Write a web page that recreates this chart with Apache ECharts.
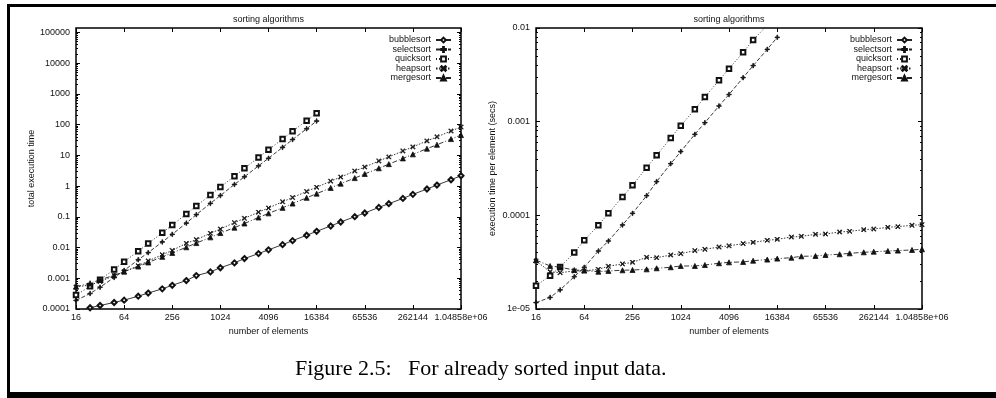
<!DOCTYPE html>
<html><head><meta charset="utf-8">
<script src="https://cdn.jsdelivr.net/npm/echarts@6/dist/echarts.min.js"></script>
<style>html,body{margin:0;padding:0;background:#fff}#c{width:996px;height:398px}</style>
</head><body><div id="c"></div>
<script>
// ---------- data ----------
const nValues = [16,24,32,48,64,96,128,192,256,384,512,768,1024,1536,2048,3072,4096,6144,8192,12288,16384,24576,32768,49152,65536,98304,131072,196608,262144,393216,524288,786432,1048576];
const seriesNames = ['bubblesort','selectsort','quicksort','heapsort','mergesort'];

// total execution time (left chart)
const bubbleTotal = [8.0e-5,1.1e-4,1.3e-4,1.63e-4,1.94e-4,2.61e-4,3.3e-4,4.52e-4,5.9e-4,8.42e-4,1.22e-3,1.61e-3,2.2e-3,3.16e-3,4.37e-3,6.34e-3,8.4e-3,0.0124,0.0167,0.025,0.0336,0.0502,0.0677,0.1007,0.1325,0.202,0.266,0.396,0.535,0.798,1.075,1.60,2.16];
const selectTotal = [1.9e-4,3.19e-4,5.12e-4,1.06e-3,1.79e-3,3.99e-3,6.81e-3,0.01515,0.0269,0.0622,0.117,0.273,0.490,1.126,2.0,4.52,8.0,18.1,32.4,72.7,130];
const quickTotal  = [2.83e-4,5.45e-4,9.0e-4,1.92e-3,3.46e-3,7.5e-3,0.01344,0.0301,0.0535,0.124,0.224,0.514,0.928,2.08,3.75,8.48,15.1,33.8,61,132,234];
const heapTotal   = [5.2e-4,6.0e-4,7.8e-4,1.22e-3,1.63e-3,2.54e-3,3.66e-3,5.82e-3,8.06e-3,0.01367,0.0181,0.0290,0.0399,0.0645,0.0889,0.141,0.193,0.307,0.422,0.665,0.908,1.443,1.956,3.08,4.14,6.53,8.85,13.8,18.7,29.3,39.7,61.6,83.3];
const mergeTotal  = [5.33e-4,6.91e-4,8.93e-4,1.25e-3,1.64e-3,2.40e-3,3.26e-3,4.97e-3,6.68e-3,0.01018,0.01393,0.0214,0.0295,0.0442,0.0604,0.0946,0.129,0.195,0.269,0.414,0.565,0.868,1.196,1.81,2.47,3.77,5.15,7.92,10.7,16.4,22.0,33.6,45.5];

// execution time per element (right chart)
const bubblePer = [5.0e-6,4.58e-6,4.06e-6,3.40e-6,3.03e-6,2.72e-6,2.58e-6,2.35e-6,2.30e-6,2.19e-6,2.38e-6,2.10e-6,2.15e-6,2.06e-6,2.13e-6,2.06e-6,2.05e-6,2.02e-6,2.04e-6,2.03e-6,2.05e-6,2.04e-6,2.07e-6,2.05e-6,2.02e-6,2.05e-6,2.03e-6,2.01e-6,2.04e-6,2.03e-6,2.05e-6,2.03e-6,2.06e-6];
const selectPer = [1.17e-5,1.33e-5,1.60e-5,2.21e-5,2.79e-5,4.16e-5,5.32e-5,7.89e-5,1.05e-4,1.62e-4,2.29e-4,3.56e-4,4.79e-4,7.33e-4,9.75e-4,1.47e-3,1.95e-3,2.95e-3,3.96e-3,5.92e-3,7.95e-3];
const quickPer  = [1.77e-5,2.27e-5,2.81e-5,4.0e-5,5.41e-5,7.82e-5,1.05e-4,1.57e-4,2.09e-4,3.23e-4,4.37e-4,6.69e-4,9.06e-4,1.355e-3,1.83e-3,2.76e-3,3.68e-3,5.5e-3,7.44e-3,1.07e-2,1.43e-2];
const heapPer   = [3.26e-5,2.50e-5,2.44e-5,2.55e-5,2.55e-5,2.65e-5,2.86e-5,3.03e-5,3.15e-5,3.56e-5,3.53e-5,3.77e-5,3.90e-5,4.20e-5,4.34e-5,4.59e-5,4.72e-5,4.99e-5,5.15e-5,5.41e-5,5.54e-5,5.87e-5,5.97e-5,6.27e-5,6.32e-5,6.64e-5,6.75e-5,7.03e-5,7.14e-5,7.45e-5,7.57e-5,7.83e-5,7.94e-5];
const mergePer  = [3.33e-5,2.88e-5,2.79e-5,2.61e-5,2.57e-5,2.50e-5,2.55e-5,2.59e-5,2.61e-5,2.65e-5,2.72e-5,2.79e-5,2.88e-5,2.88e-5,2.95e-5,3.08e-5,3.15e-5,3.18e-5,3.28e-5,3.37e-5,3.45e-5,3.53e-5,3.65e-5,3.68e-5,3.77e-5,3.84e-5,3.93e-5,4.03e-5,4.09e-5,4.16e-5,4.20e-5,4.27e-5,4.34e-5];

// ticks and labels
const xTicks = [16,64,256,1024,4096,16384,65536,262144,1048576];
const xTickLabels = ['16','64','256','1024','4096','16384','65536','262144','1.04858e+06'];
const leftYTicks = [1e-4,1e-3,1e-2,1e-1,1,10,100,1000,10000,100000];
const leftYTickLabels = ['0.0001','0.001','0.01','0.1','1','10','100','1000','10000','100000'];
const rightYTicks = [1e-5,1e-4,1e-3,1e-2];
const rightYTickLabels = ['1e-05','0.0001','0.001','0.01'];

const chartTitle = 'sorting algorithms';
const xName = 'number of elements';
const leftYName = 'total execution time';
const rightYName = 'execution time per element (secs)';
const caption = 'Figure 2.5:   For already sorted input data.';

// ---------- rendering ----------
const FONT = '"Liberation Sans", Arial, Helvetica, sans-serif';
const TXT = '#111';
const LEFT_YMAX = 1.38e5;

function minorTicks(e0, e1, max) {
  const out = [];
  for (let e = e0; e <= e1; e++) for (let k = 2; k <= 9; k++) { const v = k * Math.pow(10, e); if (v < max) out.push(v); }
  return out;
}
function labelFrom(ticks, labels) {
  return v => { let best = 0, bd = Infinity;
    ticks.forEach((t, i) => { const d = Math.abs(Math.log(t) - Math.log(v)); if (d < bd) { bd = d; best = i; } });
    return labels[best]; };
}
function xAxesFor(g) {
  const base = {type:'log', logBase:2, min:16, max:1048576, gridIndex:g, axisLine:{show:false}, splitLine:{show:false}};
  return [
    Object.assign({}, base, {position:'bottom', name:xName, nameLocation:'middle', nameGap:13,
      nameTextStyle:{fontSize:9, fontFamily:FONT, color:TXT},
      axisTick:{inside:true, length:4, customValues:xTicks, lineStyle:{color:'#000', width:1}},
      axisLabel:{customValues:xTicks, formatter:labelFrom(xTicks, xTickLabels), margin:4, fontSize:9, fontFamily:FONT, color:TXT}}),
    Object.assign({}, base, {position:'top', axisTick:{inside:true, length:4, customValues:xTicks, lineStyle:{color:'#000', width:1}}, axisLabel:{show:false}})
  ];
}
function yAxesFor(g, min, max, majors, labels, minors, name, gap) {
  const base = {type:'log', logBase:10, min:min, max:max, gridIndex:g, axisLine:{show:false}, splitLine:{show:false}};
  const tl = {color:'#000', width:1};
  return [
    Object.assign({}, base, {position:'left', name:name, nameLocation:'middle', nameGap:gap,
      nameTextStyle:{fontSize:9, fontFamily:FONT, color:TXT},
      axisTick:{inside:true, length:4, customValues:majors, lineStyle:tl},
      axisLabel:{customValues:majors, formatter:labelFrom(majors, labels), margin:6, fontSize:9, fontFamily:FONT, color:TXT}}),
    Object.assign({}, base, {position:'left', axisTick:{inside:true, length:2, customValues:minors, lineStyle:tl}, axisLabel:{show:false}}),
    Object.assign({}, base, {position:'right', axisTick:{inside:true, length:4, customValues:majors, lineStyle:tl}, axisLabel:{show:false}}),
    Object.assign({}, base, {position:'right', axisTick:{inside:true, length:2, customValues:minors, lineStyle:tl}, axisLabel:{show:false}})
  ];
}

const PLUS = 'path://M4.2,0H5.8V4.2H10V5.8H5.8V10H4.2V5.8H0V4.2H4.2Z';
const CROSS = 'path://M0,1.1L1.1,0L5,3.9L8.9,0L10,1.1L6.1,5L10,8.9L8.9,10L5,6.1L1.1,10L0,8.9L3.9,5Z';
const styles = {
  bubblesort:{symbol:'emptyDiamond', size:5, dash:'solid'},
  selectsort:{symbol:PLUS, size:4.5, dash:[4,2]},
  quicksort:{symbol:'emptyRect', size:4.5, dash:[1,2]},
  heapsort:{symbol:CROSS, size:4.5, dash:[1.5,1.5]},
  mergesort:{symbol:'triangle', size:5, dash:[5,2,1,2]}
};

function mk(name, arr, xi, yi) {
  const s = styles[name];
  return {type:'line', name:name, xAxisIndex:xi, yAxisIndex:yi, clip:true, silent:true,
    data: arr.map((v, i) => [nValues[i], v]),
    symbol:s.symbol, symbolSize:s.size, showSymbol:true,
    lineStyle:{color:'#222', width:0.9, type:s.dash},
    itemStyle:{color:'#111', borderColor:'#111', borderWidth:0.8}};
}

const leftSets = [bubbleTotal, selectTotal, quickTotal, heapTotal, mergeTotal];
const rightSets = [bubblePer, selectPer, quickPer, heapPer, mergePer];
const series = [];
seriesNames.forEach((n, i) => series.push(mk(n, leftSets[i], 0, 0)));
seriesNames.forEach((n, i) => series.push(mk(n, rightSets[i], 2, 4)));

function legendFor(rightPx) {
  return {data:seriesNames, orient:'vertical', right:rightPx, top:35.5, align:'right', padding:0,
    itemWidth:15, itemHeight:6, itemGap:0.5, selectedMode:false,
    formatter: n => '{a|' + n + '}',
    textStyle:{rich:{a:{width:43, align:'right', fontSize:9, lineHeight:9, fontFamily:FONT, color:TXT}}}};
}

const chart = echarts.init(document.getElementById('c'), null, {renderer:'canvas'});
chart.setOption({
  animation:false,
  backgroundColor:'#fff',
  title:[
    {text:chartTitle, left:268.5, top:15, textAlign:'center', padding:0, textStyle:{fontSize:9, fontWeight:'normal', fontFamily:FONT, color:TXT, lineHeight:9}},
    {text:chartTitle, left:729, top:15, textAlign:'center', padding:0, textStyle:{fontSize:9, fontWeight:'normal', fontFamily:FONT, color:TXT, lineHeight:9}}
  ],
  legend:[legendFor(544), legendFor(83)],
  grid:[
    {left:76, top:28, width:385, height:281, show:true, borderColor:'#000', borderWidth:1.5, backgroundColor:'transparent'},
    {left:536, top:28, width:386, height:281, show:true, borderColor:'#000', borderWidth:1.5, backgroundColor:'transparent'}
  ],
  xAxis: xAxesFor(0).concat(xAxesFor(1)),
  yAxis: yAxesFor(0, 1e-4, LEFT_YMAX, leftYTicks, leftYTickLabels, minorTicks(-4, 5, LEFT_YMAX), leftYName, 40)
    .concat(yAxesFor(1, 1e-5, 1e-2, rightYTicks, rightYTickLabels, minorTicks(-5, -3, 1e-2), rightYName, 39)),
  series: series,
  graphic:[
    {type:'rect', shape:{x:7, y:4, width:989, height:3}, style:{fill:'#000'}},
    {type:'rect', shape:{x:7, y:4, width:3, height:394}, style:{fill:'#000'}},
    {type:'rect', shape:{x:7, y:392, width:989, height:6}, style:{fill:'#000'}},
    {type:'text', x:295, y:369.5, style:{text:caption, fontSize:22, fontFamily:'"Liberation Serif", "Times New Roman", serif', fill:'#000', align:'left', verticalAlign:'middle'}}
  ]
});
</script></body></html>
